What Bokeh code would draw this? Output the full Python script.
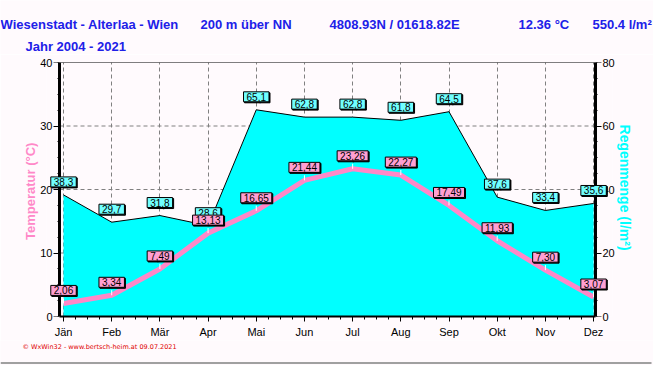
from bokeh.plotting import figure
from bokeh.layouts import column
from bokeh.models import Range1d, LinearAxis, FixedTicker, Label, ColumnDataSource
from bokeh.core.properties import value
from bokeh.embed import file_html
from bokeh.resources import INLINE

months = ["Jän", "Feb", "Mär", "Apr", "Mai", "Jun", "Jul", "Aug", "Sep", "Okt", "Nov", "Dez"]
temperature = [2.06, 3.34, 7.49, 13.13, 16.65, 21.44, 23.26, 22.27, 17.49, 11.93, 7.30, 3.07]
rain = [38.3, 29.7, 31.8, 28.6, 65.1, 62.8, 62.8, 61.8, 64.5, 37.6, 33.4, 35.6]
temp_ticks = [0, 10, 20, 30, 40]
rain_ticks = [0, 20, 40, 60, 80]

header_texts = ["Wiesenstadt - Alterlaa - Wien", "200 m über NN", "4808.93N / 01618.82E",
                "12.36 °C", "550.4 l/m²"]
subtitle = "Jahr  2004 - 2021"
footer = "© WxWin32 - www.bertsch-heim.at  09.07.2021"

BG = "#fffafd"
BLUE = "#2020e8"
PINK = "#ff88c8"
CYAN = "#00ffff"
FONT = "Liberation Sans"
W = 653

# data-space positions of the two y axis lines (slightly outside Jan / Dez)
X_LEFT, X_RIGHT = -0.083, 11.04


def blank(height):
    f = figure(width=W, height=height, output_backend="svg", toolbar_location=None,
               x_range=Range1d(0, W), y_range=Range1d(height, 0),
               x_axis_type=None, y_axis_type=None,
               min_border_left=0, min_border_right=0, min_border_top=0, min_border_bottom=0)
    f.frame_align = False
    f.background_fill_color = BG
    f.border_fill_color = BG
    f.outline_line_color = None
    f.xgrid.visible = False
    f.ygrid.visible = False
    return f


# ---------- header ----------
head = blank(54)
head.text(x=[0, 200, 329, 518, 592], y=[24] * 5, text=header_texts,
          text_font=value(FONT), text_font_size="13px", text_font_style="bold",
          text_color=BLUE, text_baseline="middle", text_align="left")
head.text(x=[25], y=[46], text=[subtitle],
          text_font=value(FONT), text_font_size="13px", text_font_style="bold",
          text_color=BLUE, text_baseline="middle", text_align="left")

# ---------- main chart ----------
xs = list(range(len(months)))
src = ColumnDataSource(dict(
    x=xs, t=temperature, r=rain,
    t_top=[v + 0.8 for v in temperature],
))

p = figure(width=W, height=286, output_backend="svg", toolbar_location=None,
           x_range=Range1d(-0.353, 11.393), y_range=Range1d(0, 40),
           min_border_left=46, min_border_right=41, min_border_top=8, min_border_bottom=24)
p.frame_align = False
p.background_fill_color = BG
p.border_fill_color = BG
p.outline_line_color = None
p.extra_y_ranges = {"rain": Range1d(0, 80)}


def style_labels(ax, standoff):
    ax.major_label_text_font = FONT
    ax.major_label_text_font_size = "11px"
    ax.major_label_text_color = "black"
    ax.major_label_standoff = standoff


def style_line_axis(ax):
    ax.axis_line_width = 3
    ax.axis_line_color = "black"
    ax.major_tick_out = 6
    ax.major_tick_in = 0
    ax.minor_tick_out = 2
    ax.minor_tick_in = 0
    ax.major_label_standoff = 0
    ax.major_label_text_font_size = "1px"
    ax.major_label_text_alpha = 0


def hide_line(ax):
    ax.axis_line_color = None
    ax.major_tick_line_color = None
    ax.minor_tick_line_color = None
    ax.major_tick_out = 0
    ax.major_tick_in = 0
    ax.minor_tick_out = 0
    ax.minor_tick_in = 0


xax = p.xaxis[0]
xax.ticker = FixedTicker(ticks=xs, minor_ticks=[i * 0.25 for i in range(45)])
xax.major_label_overrides = {i: m for i, m in enumerate(months)}
xax.bounds = (X_LEFT, X_RIGHT)
xax.axis_line_width = 2
xax.axis_line_color = "black"
xax.major_tick_out = 5
xax.major_tick_in = 0
xax.minor_tick_out = 3
xax.minor_tick_in = 0
style_labels(xax, 4)

temp_ticker = FixedTicker(ticks=temp_ticks, minor_ticks=[i * 2.5 for i in range(17)])
rain_ticker = FixedTicker(ticks=rain_ticks, minor_ticks=[i * 5 for i in range(17)])

# left: labels + title (side axis), line + ticks (axis at fixed location)
yax = p.yaxis[0]
yax.ticker = temp_ticker
hide_line(yax)
style_labels(yax, -6)
yax.axis_label = "Temperatur  (°C)"
yax.axis_label_text_color = PINK
yax.axis_label_text_font = FONT
yax.axis_label_text_font_style = "bold"
yax.axis_label_text_font_size = "13px"
yax.axis_label_standoff = -1

yline = LinearAxis(ticker=temp_ticker, fixed_location=X_LEFT)
style_line_axis(yline)
p.add_layout(yline, "left")

# right: rain axis
rax = LinearAxis(y_range_name="rain", ticker=rain_ticker)
hide_line(rax)
style_labels(rax, -10)
rax.axis_label = "Regenmenge  (l/m²)"
rax.axis_label_text_color = CYAN
rax.axis_label_text_font = FONT
rax.axis_label_text_font_style = "bold"
rax.axis_label_text_font_size = "14px"
rax.axis_label_standoff = -1
p.add_layout(rax, "right")

rline = LinearAxis(y_range_name="rain", ticker=rain_ticker, fixed_location=X_RIGHT)
style_line_axis(rline)
p.add_layout(rline, "right")

# grid: vertical lines at months, horizontal dashed lines between the two axes
p.xgrid.ticker = FixedTicker(ticks=xs)
p.xgrid.grid_line_color = "#808080"
p.xgrid.grid_line_dash = "4 3"
p.ygrid.visible = False
inner = temp_ticks[1:-1]
p.segment(x0=[X_LEFT] * len(inner), y0=inner, x1=[X_RIGHT] * len(inner), y1=inner,
          line_color="#808080", line_dash="4 3", line_width=1, level="underlay")
# top frame line
p.segment(x0=[X_LEFT], y0=[temp_ticks[-1]], x1=[X_RIGHT], y1=[temp_ticks[-1]],
          line_color="black", line_width=1)

p.varea(x="x", y1=0, y2="r", source=src, fill_color=CYAN, y_range_name="rain")
p.line(x="x", y="r", source=src, line_color="black", line_width=1, y_range_name="rain")

p.line(x="x", y="t", source=src, line_color=PINK, line_width=5)
p.segment(x0="x", y0="t", x1="x", y1="t_top", source=src, line_color="white", line_width=1)


def box_label(x, y, txt, fill, rng="default"):
    common = dict(x=x, y=y, text=txt, x_units="data", y_units="data", y_range_name=rng,
                  text_font=FONT, text_font_size="10px", text_align="center",
                  text_baseline="middle", padding=(3, 1), border_line_color="black")
    p.add_layout(Label(x_offset=1, y_offset=12, text_color="black",
                       background_fill_color="black", **common))
    p.add_layout(Label(x_offset=0, y_offset=13, text_color="black",
                       background_fill_color=fill, **common))


for i in xs:
    box_label(i, rain[i], f"{rain[i]:.1f}".replace(".", ","), "#70ffff", "rain")
for i in xs:
    box_label(i, temperature[i], f"{temperature[i]:.2f}".replace(".", ","), "#ff9fd2")

# ---------- footer ----------
foot = blank(25)
foot.text(x=[22], y=[6], text=[footer], text_font=value("DejaVu Sans"), text_font_size="6.5px",
          text_color="#e00000", text_baseline="middle", text_align="left")
foot.line(x=[0, 651], y=[22.5, 22.5], line_color="#a0a0a0", line_width=2)

layout = column(head, p, foot, spacing=0)
open("out.html", "w").write(file_html(layout, INLINE))
